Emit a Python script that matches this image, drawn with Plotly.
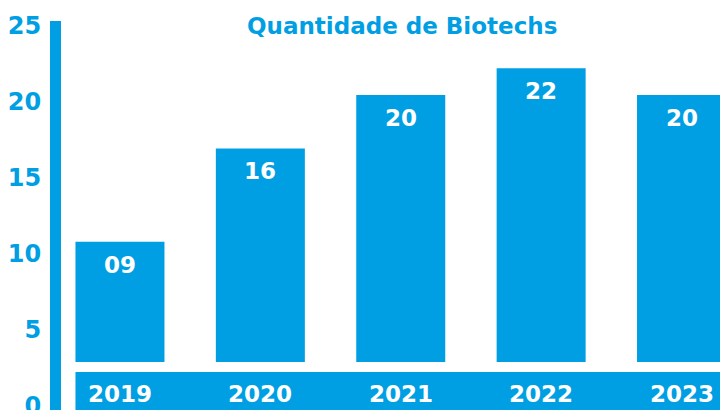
import plotly.graph_objects as go

years = [2019, 2020, 2021, 2022, 2023]
values = [9, 16, 20, 22, 20]
value_labels = ["09", "16", "20", "22", "20"]
axis_ticks = [0, 5, 10, 15, 20, 25]
title_text = "Quantidade de Biotechs"

BLUE = "#009FE3"
FONT = "DejaVu Sans"

fig = go.Figure()
# invisible trace carrying the left (tick) axis
fig.add_trace(go.Scatter(x=[years[0]] * len(axis_ticks), y=axis_ticks, mode="none",
                         hoverinfo="skip", showlegend=False))
fig.add_trace(go.Bar(
    x=years, y=values, yaxis="y2",
    marker=dict(color=BLUE, line=dict(width=0)),
    width=0.634, hoverinfo="skip", showlegend=False,
))

# value labels inside bars
for xv, yv, t in zip(years, values, value_labels):
    fig.add_annotation(x=xv, y=yv, xref="x", yref="y2", text=t, showarrow=False,
                       yshift=-23, yanchor="middle",
                       font=dict(family=FONT, size=23, color="white", weight="bold"))

# year band
fig.add_shape(type="rect", xref="x", yref="y2",
              x0=years[0] - 0.317, x1=years[-1] + 1, y0=-4, y1=-0.75,
              fillcolor=BLUE, line=dict(width=0), layer="below")
for xv in years:
    fig.add_annotation(x=xv, y=-2.4, xref="x", yref="y2", text=str(xv), showarrow=False,
                       yanchor="middle",
                       font=dict(family=FONT, size=23, color="white", weight="bold"))

fig.add_annotation(x=(402 - 61) / 659, xref="paper", y=1 + (21 - 26) / 389, yref="paper",
                   text=title_text, showarrow=False, yanchor="middle", xanchor="center",
                   font=dict(family=FONT, size=23, color=BLUE, weight="bold"))

fig.update_layout(
    width=720, height=410,
    margin=dict(l=61, r=0, t=21, b=0, autoexpand=False),
    paper_bgcolor="white", plot_bgcolor="white",
    xaxis=dict(range=[2018.58, 2023.274], showgrid=False, zeroline=False,
               showticklabels=False, showline=False, fixedrange=True, automargin=False),
    yaxis=dict(range=[-0.263, 25.296], tickvals=axis_ticks, showgrid=False, zeroline=False,
               showline=True, linecolor=BLUE, linewidth=11, ticks="",
               ticklabelstandoff=4, automargin=False, ticklabeloverflow="allow",
               tickfont=dict(family=FONT, size=24, color=BLUE, weight="bold")),
    yaxis2=dict(range=[-3.596, 25.543], overlaying="y", visible=False, automargin=False),
    font=dict(family=FONT),
)

fig.write_html("out.html", config={"displayModeBar": False},
               post_script="document.body.style.margin='0';document.body.style.overflow='hidden';")
